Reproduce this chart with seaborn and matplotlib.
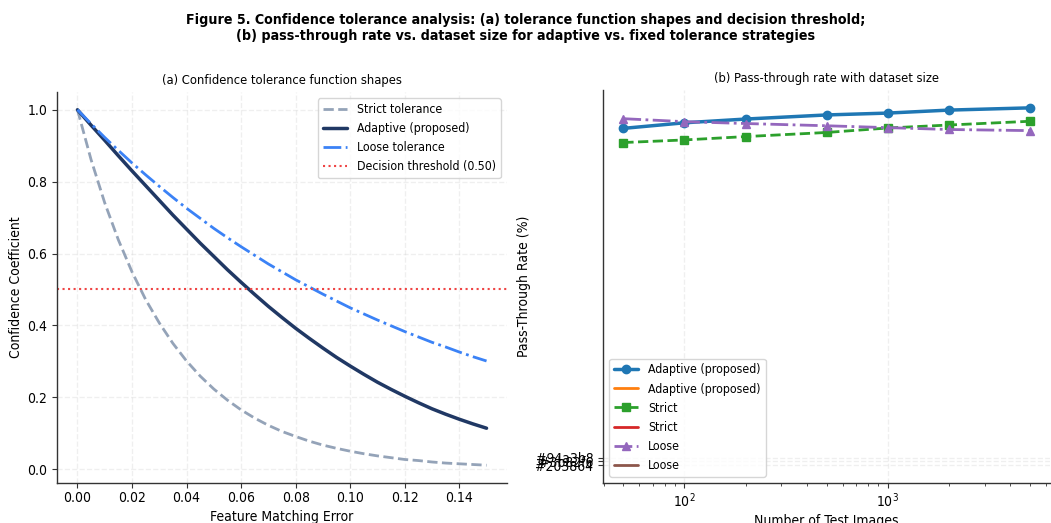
import numpy as np
import matplotlib
matplotlib.use("Agg")
from matplotlib import pyplot as plt
import seaborn as sns

# panel (a): values
err = [0.000, 0.005, 0.010, 0.015, 0.020, 0.025, 0.030, 0.035, 0.040, 0.045,
       0.050, 0.055, 0.060, 0.065, 0.070, 0.075, 0.080, 0.085, 0.090, 0.095,
       0.100, 0.105, 0.110, 0.115, 0.120, 0.125, 0.130, 0.135, 0.140, 0.145, 0.150]
strict_tol = [1.000, 0.861, 0.741, 0.638, 0.549, 0.472, 0.407, 0.350, 0.301, 0.259,
              0.223, 0.192, 0.165, 0.142, 0.122, 0.105, 0.091, 0.078, 0.067, 0.058,
              0.050, 0.043, 0.037, 0.032, 0.027, 0.024, 0.020, 0.017, 0.015, 0.013, 0.011]
adaptive_tol = [1.000, 0.957, 0.915, 0.872, 0.830, 0.789, 0.748, 0.707, 0.668, 0.629,
                0.592, 0.555, 0.520, 0.486, 0.453, 0.422, 0.392, 0.364, 0.337, 0.311,
                0.287, 0.264, 0.242, 0.222, 0.203, 0.185, 0.168, 0.153, 0.139, 0.126, 0.114]
loose_tol = [1.000, 0.961, 0.923, 0.887, 0.852, 0.819, 0.787, 0.756, 0.726, 0.698,
             0.670, 0.644, 0.619, 0.595, 0.571, 0.549, 0.527, 0.507, 0.487, 0.468,
             0.449, 0.432, 0.415, 0.399, 0.383, 0.368, 0.353, 0.340, 0.326, 0.313, 0.301]
threshold = 0.50

# panel (b): pass-through rate vs dataset size
sizes = [50, 100, 200, 500, 1000, 2000, 5000]
rate_adaptive = [90.3, 91.8, 92.8, 93.9, 94.4, 95.2, 95.8]
rate_strict = [86.5, 87.2, 88.1, 89.2, 90.4, 91.2, 92.2]
rate_loose = [92.9, 92.1, 91.6, 91.0, 90.5, 90.0, 89.7]
# colour strings that ended up as categorical y values in the original
cat_labels = ["#203864", "#3b82f6", "#94a3b8"]

sns.set_theme(style="ticks")
plt.rcParams.update({
    "font.family": ["DejaVu Sans"],
    "font.stretch": "condensed",
    "axes.edgecolor": "#333333",
    "axes.linewidth": 1.0,
    "xtick.major.size": 3.5, "ytick.major.size": 3.5,
    "xtick.minor.size": 2, "ytick.minor.size": 2,
    "xtick.major.width": 0.8, "ytick.major.width": 0.8,
    "xtick.minor.width": 0.6,
    "xtick.major.pad": 2.5, "ytick.major.pad": 3.5,
    "xtick.labelsize": 10, "ytick.labelsize": 10,
    "axes.labelsize": 10, "axes.labelpad": 3,
    "text.color": "black", "axes.labelcolor": "black",
    "xtick.color": "#333333", "ytick.color": "#333333",
    "xtick.labelcolor": "black", "ytick.labelcolor": "black",
})

fig = plt.figure(figsize=(10.51, 5.23), dpi=100)
ax1 = fig.add_axes([57 / 1051, 40 / 523, 450 / 1051, 391 / 523])
ax2 = fig.add_axes([603 / 1051, 40 / 523, 447 / 1051, 393 / 523])

sns.lineplot(x=err, y=strict_tol, ax=ax1, color="#94a3b8", lw=2, linestyle="--",
             label="Strict tolerance")
sns.lineplot(x=err, y=adaptive_tol, ax=ax1, color="#203864", lw=2.5,
             label="Adaptive (proposed)")
sns.lineplot(x=err, y=loose_tol, ax=ax1, color="#3b82f6", lw=2, linestyle="-.",
             label="Loose tolerance")
ax1.axhline(threshold, color="#ef4444", lw=1.5, linestyle=":",
            label="Decision threshold (0.50)")
ax1.set_xlabel("Feature Matching Error")
ax1.set_ylabel("Confidence Coefficient")
ax1.set_title("(a) Confidence tolerance function shapes", fontsize=9.3)
ax1.grid(True, linestyle="--", alpha=0.3)
ax1.legend(loc="upper right", fontsize=8.8)
sns.despine(ax=ax1)

series = [("Adaptive (proposed)", rate_adaptive, "tab:blue", "o", "-", 2.5, "tab:orange", "#203864"),
          ("Strict", rate_strict, "tab:green", "s", "--", 2, "tab:red", "#94a3b8"),
          ("Loose", rate_loose, "tab:purple", "^", "-.", 2, "tab:brown", "#3b82f6")]
for name, vals, col, mk, ls, lw, ghost, hexcol in series:
    sns.lineplot(x=sizes, y=vals, ax=ax2, color=col, marker=mk, markersize=6,
                 markeredgecolor=col, markeredgewidth=1, linestyle=ls, lw=lw, label=name)
    # the stray entry: one point at x=0 (invisible on the log axis), y = category slot
    ax2.plot([0], [cat_labels.index(hexcol)], color=ghost, lw=2, label=name)
ax2.set_xscale("log")
ax2.set_yticks(range(len(cat_labels)), cat_labels)
ax2.set_xlabel("Number of Test Images")
ax2.set_ylabel("Pass-Through Rate (%)")
ax2.set_title("(b) Pass-through rate with dataset size", fontsize=9.3)
ax2.grid(True, linestyle="--", alpha=0.3)
ax2.legend(loc="lower left", fontsize=8.8)
sns.despine(ax=ax2)

fig.suptitle("Figure 5. Confidence tolerance analysis: (a) tolerance function shapes and decision threshold;\n"
             "(b) pass-through rate vs. dataset size for adaptive vs. fixed tolerance strategies",
             fontsize=10.2, fontweight="bold", y=0.975)

fig.savefig("out.png", dpi=100)
